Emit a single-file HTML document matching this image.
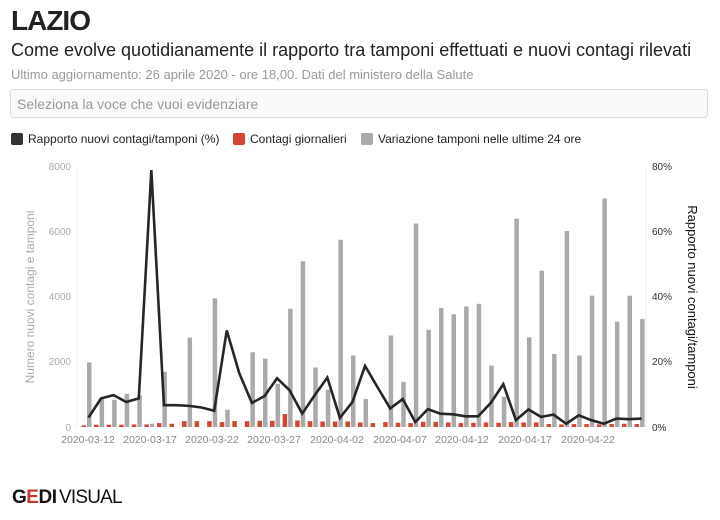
<!DOCTYPE html>
<html><head><meta charset="utf-8"><style>
body{margin:0;width:720px;height:520px;background:#fff;font-family:"Liberation Sans",sans-serif;overflow:hidden;position:relative}
.t{position:absolute;left:11px;top:5px;font-size:28px;font-weight:bold;color:#222;letter-spacing:-1px}
.s{position:absolute;left:11px;top:40px;font-size:18px;color:#222}
.u{position:absolute;left:11px;top:67px;font-size:13px;color:#999}
.sel{position:absolute;left:10px;top:89px;width:698px;height:29px;border:1px solid #ddd;border-radius:3px;background:#fafafa;box-sizing:border-box;font-size:14px;color:#999;padding:6px 0 0 6px}
.lg{position:absolute;top:132px;font-size:12px;color:#222;white-space:nowrap}
.lg i{display:inline-block;width:12px;height:12px;border-radius:2px;vertical-align:-2px;margin-right:5px}
</style></head><body>
<div class="t">LAZIO</div>
<div class="s">Come evolve quotidianamente il rapporto tra tamponi effettuati e nuovi contagi rilevati</div>
<div class="u">Ultimo aggiornamento: 26 aprile 2020 - ore 18,00. Dati del ministero della Salute</div>
<div class="sel">Seleziona la voce che vuoi evidenziare</div>
<div class="lg" style="left:11px"><i style="background:#333"></i>Rapporto nuovi contagi/tamponi (%)</div>
<div class="lg" style="left:233px"><i style="background:#d44535"></i>Contagi giornalieri</div>
<div class="lg" style="left:361px"><i style="background:#aaa"></i>Variazione tamponi nelle ultime 24 ore</div>
<svg id="c" width="720" height="520" style="position:absolute;left:0;top:0" font-family="Liberation Sans, sans-serif">
<g font-size="10" fill="#aaa" text-anchor="end">
<text x="71" y="170">8000</text><text x="71" y="235">6000</text><text x="71" y="300">4000</text><text x="71" y="365">2000</text><text x="71" y="431">0</text>
</g>
<g font-size="10" fill="#333">
<text x="652" y="170">80%</text><text x="652" y="235">60%</text><text x="652" y="300">40%</text><text x="652" y="365">20%</text><text x="652" y="431">0%</text>
</g>
<line x1="77" y1="167" x2="77" y2="427" stroke="#eee"/>
<line x1="646" y1="167" x2="646" y2="427" stroke="#eee"/>
<text transform="translate(34,297) rotate(-90)" text-anchor="middle" font-size="12" fill="#aaa">Numero nuovi contagi e tamponi</text>
<text transform="translate(688,297) rotate(90)" text-anchor="middle" font-size="13" fill="#111">Rapporto nuovi contagi/tamponi</text>
<g font-size="10.5" fill="#888" text-anchor="middle">
<text x="88" y="443">2020-03-12</text><text x="150" y="443">2020-03-17</text><text x="212" y="443">2020-03-22</text><text x="274" y="443">2020-03-27</text><text x="337" y="443">2020-04-02</text><text x="400" y="443">2020-04-07</text><text x="462" y="443">2020-04-12</text><text x="525" y="443">2020-04-17</text><text x="588" y="443">2020-04-22</text>
</g>
<g id="b"></g>
<text x="12" y="503" font-size="19" font-weight="bold" fill="#111" letter-spacing="-0.5">G<tspan fill="#c33">E</tspan>DI</text>
<text x="59" y="503" font-size="19" fill="#111" letter-spacing="-0.8">VISUAL</text>
</svg>
<script>
var g=[1990,880,840,1020,980,100,1700,0,2750,0,3960,530,0,2300,2100,1330,3640,5100,1830,1150,5760,2200,860,0,2815,1390,6260,2990,3660,3470,3710,3790,1890,930,6410,2760,4810,2250,6030,2200,4040,7030,3240,4040,3320];
var r=[50,70,70,70,80,80,120,100,180,180,180,150,180,180,190,190,400,200,180,170,170,170,140,120,150,130,120,160,160,140,120,130,140,130,150,140,140,90,80,90,90,80,90,100,90];
var l=[2.9,8.8,9.8,7.7,8.8,79,6.7,6.7,6.5,6,5,29.7,16.5,7.4,9.5,15,11.3,4.1,9.8,15.2,2.8,7.7,18.8,12.2,5.7,8.6,1.5,5.5,4.1,3.9,3.3,3.3,7.4,13.2,2.1,5.4,3.1,3.8,1,3.6,2.1,1,2.6,2.4,2.6];
var s='',p=[];
for(var i=0;i<45;i++){var c=87+i*12.57;
var h=g[i]*0.0325;if(h>0)s+='<rect x="'+(c)+'" y="'+(427-h)+'" width="4.5" height="'+h+'" fill="#aaa"/>';
h=r[i]*0.0325;s+='<rect x="'+(c-5.5)+'" y="'+(427-h)+'" width="4.5" height="'+h+'" fill="#d44535"/>';
p.push((c+1.5)+','+(427-l[i]*3.25));}
s+='<polyline points="'+p.join(' ')+'" fill="none" stroke="#262626" stroke-width="2.6" stroke-linejoin="miter"/>';
document.getElementById('b').innerHTML=s;
</script>
</body></html>
